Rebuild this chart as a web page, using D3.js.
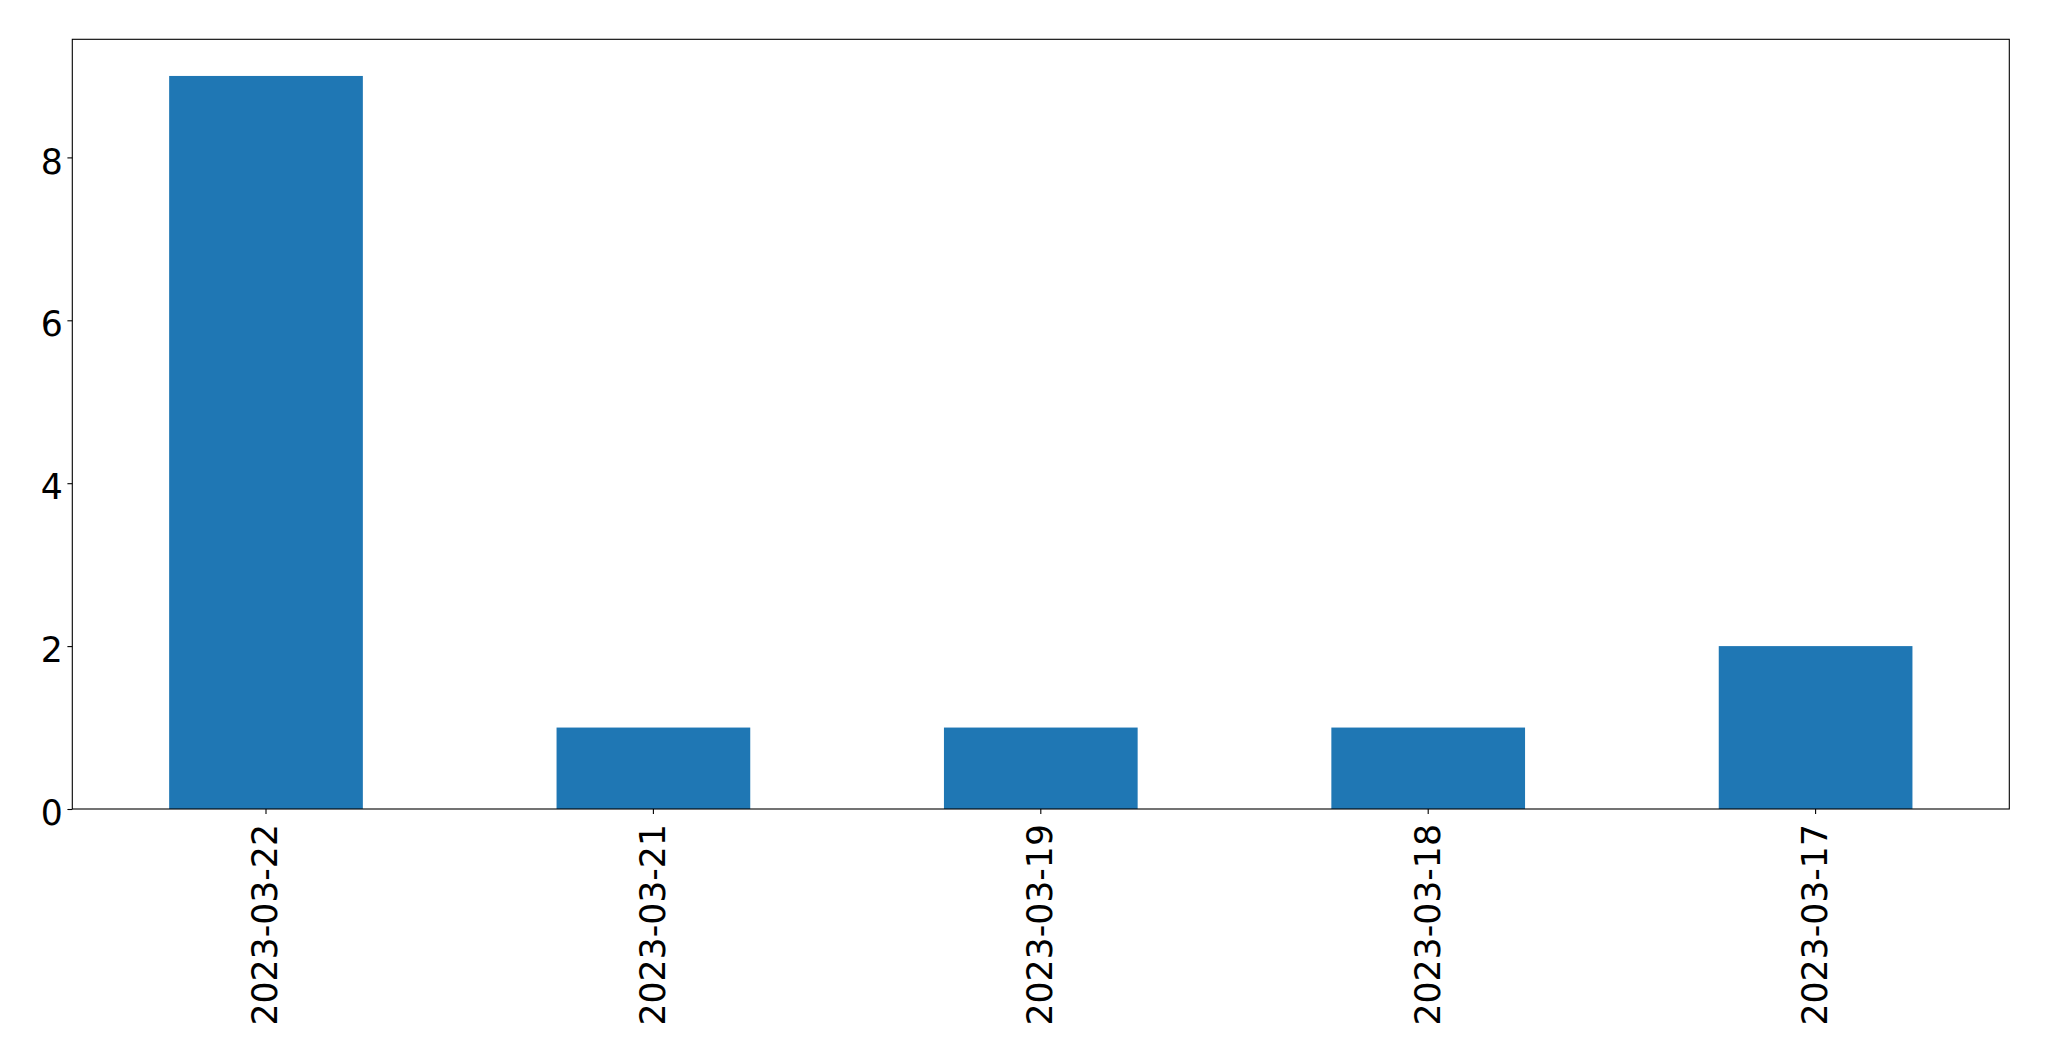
<!DOCTYPE html>
<html>
<head>
<meta charset="utf-8">
<script src="https://cdn.jsdelivr.net/npm/d3@7"></script>
<style>
html,body{margin:0;padding:0;background:#fff;}
svg{display:block;}
text{font-family:"DejaVu Sans",sans-serif;fill:#000;}
</style>
</head>
<body>
<script>
const categories = ["2023-03-22","2023-03-21","2023-03-19","2023-03-18","2023-03-17"];
const values = [9, 1, 1, 1, 2];
const yTicks = [0, 2, 4, 6, 8];

const W = 2049, H = 1061;
const mLeft = 72.3, mRight = 2009.3, mTop = 39.3, mBottom = 809;
const fontSize = 34.7;

const svg = d3.select("body").append("svg").attr("width", W).attr("height", H);

const x = d3.scaleBand().domain(categories).range([mLeft, mRight]).paddingInner(0.5).paddingOuter(0.25);
const y = d3.scaleLinear().domain([0, 9.45]).range([mBottom, mTop]);

svg.append("g").selectAll("rect").data(values).join("rect")
  .attr("x", (d,i) => x(categories[i]))
  .attr("width", x.bandwidth())
  .attr("y", d => y(d))
  .attr("height", d => y(0) - y(d))
  .attr("fill", "#1f77b4");

// frame
svg.append("rect").attr("x", mLeft).attr("y", mTop).attr("width", mRight-mLeft).attr("height", mBottom-mTop)
  .attr("fill","none").attr("stroke","#000").attr("stroke-width",1.1);

// x axis
const xa = svg.append("g").attr("transform", `translate(0,${mBottom})`)
  .call(d3.axisBottom(x).tickSize(4.9).tickSizeOuter(0).tickPadding(0));
xa.select(".domain").remove();
xa.selectAll(".tick line").attr("stroke","#000").attr("stroke-width",1.1);
xa.selectAll(".tick text")
  .attr("font-size", fontSize)
  .attr("font-family", '"DejaVu Sans",sans-serif')
  .attr("transform", "translate(0,15) rotate(-90)")
  .attr("text-anchor", "end")
  .attr("dy", "0.33em")
  .attr("x", 0).attr("y", 0);

// y axis
const ya = svg.append("g").attr("transform", `translate(${mLeft},0)`)
  .call(d3.axisLeft(y).tickValues(yTicks).tickFormat(d3.format("d")).tickSize(4.9).tickPadding(4.5).tickSizeOuter(0));
ya.select(".domain").remove();
ya.selectAll(".tick line").attr("stroke","#000").attr("stroke-width",1.1);
ya.selectAll(".tick text")
  .attr("font-size", fontSize)
  .attr("font-family", '"DejaVu Sans",sans-serif')
  .attr("dy", "0.45em");
</script>
</body>
</html>
